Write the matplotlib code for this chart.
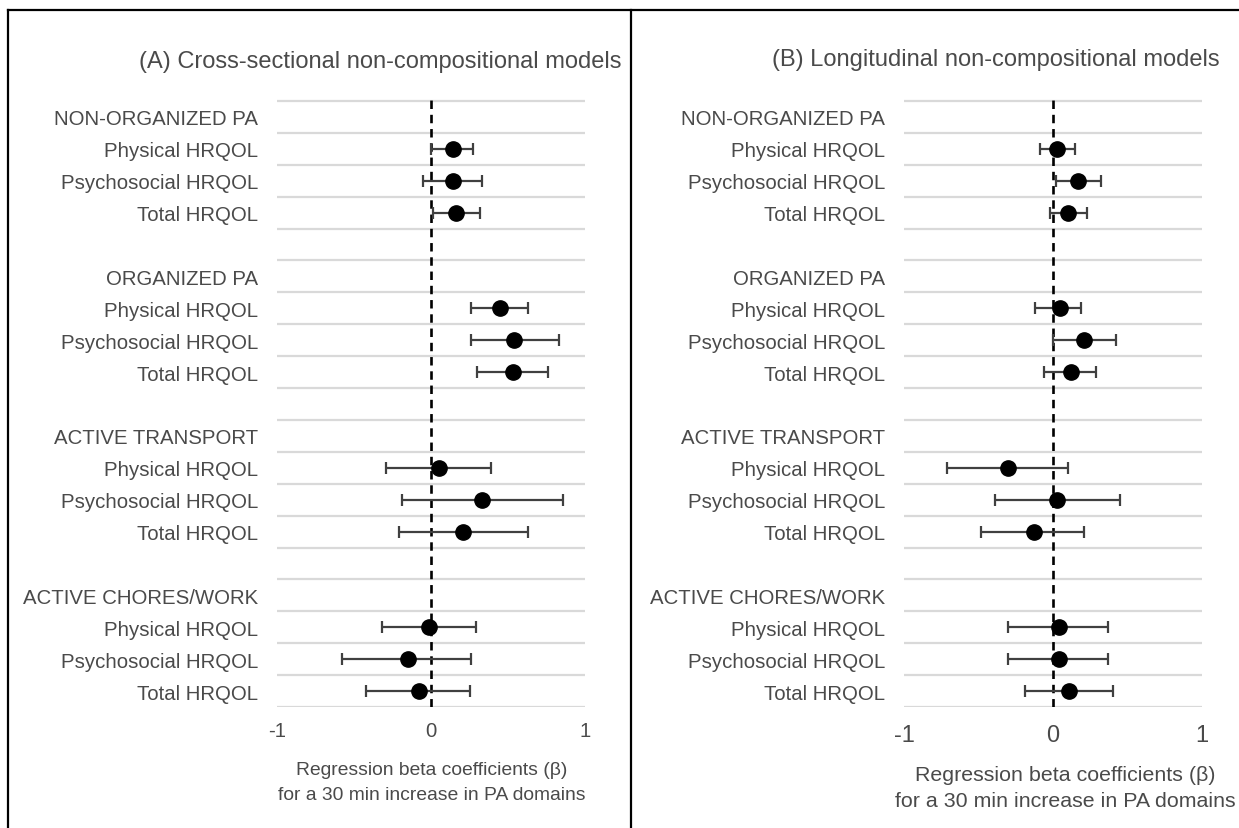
import matplotlib

matplotlib.use("Agg")
import matplotlib.pyplot as plt
from matplotlib.lines import Line2D
import numpy as np

plt.rcParams["font.family"] = ["Liberation Sans", "DejaVu Sans"]

DOMAINS = ["NON-ORGANIZED PA", "ORGANIZED PA", "ACTIVE TRANSPORT", "ACTIVE CHORES/WORK"]
OUTCOMES = ["Physical HRQOL", "Psychosocial HRQOL", "Total HRQOL"]
XTICKS = [-1, 0, 1]

# beta and 95% CI, ordered domain by domain, outcomes inside
CROSS_BETA = [0.14, 0.14, 0.16, 0.45, 0.54, 0.53, 0.05, 0.33, 0.21, -0.01, -0.15, -0.08]
CROSS_LO = [0.00, -0.05, 0.01, 0.26, 0.26, 0.30, -0.29, -0.19, -0.21, -0.32, -0.58, -0.42]
CROSS_HI = [0.27, 0.33, 0.32, 0.63, 0.83, 0.76, 0.39, 0.86, 0.63, 0.29, 0.26, 0.25]

LONG_BETA = [0.03, 0.17, 0.10, 0.05, 0.21, 0.12, -0.30, 0.03, -0.13, 0.04, 0.04, 0.11]
LONG_LO = [-0.09, 0.02, -0.02, -0.12, 0.00, -0.06, -0.71, -0.39, -0.48, -0.30, -0.30, -0.19]
LONG_HI = [0.15, 0.32, 0.23, 0.19, 0.42, 0.29, 0.10, 0.45, 0.21, 0.37, 0.37, 0.40]

W, H = 1239, 829
TEXT = "#4a4a4a"


def build_rows():
    """Row labels (header, 3 outcomes, blank spacer) and positions of the estimates."""
    labels, pos = [], []
    for i, dom in enumerate(DOMAINS):
        labels.append(dom)
        for out in OUTCOMES:
            pos.append(len(labels))
            labels.append(out)
        if i < len(DOMAINS) - 1:
            labels.append("")
    return labels, np.array(pos)


def px_axes(fig, left, right, top, bottom):
    return fig.add_axes([left / W, 1 - bottom / H, (right - left) / W, (bottom - top) / H])


def forest(ax, beta, lo, hi, tick_size, tick_pad):
    labels, pos = build_rows()
    n = len(labels)
    beta, lo, hi = map(np.asarray, (beta, lo, hi))

    ax.hlines(np.arange(n + 1) - 0.5, -1, 1, color="#d9d9d9", lw=1.6, zorder=1)
    ax.axvline(0, color="black", ls=(0, (3.2, 2.2)), lw=1.9, zorder=2)
    ax.errorbar(beta, pos, xerr=[beta - lo, hi - beta], fmt="o", color="black",
                ecolor="#404040", elinewidth=1.6, capsize=4.5, capthick=1.6,
                markersize=11, zorder=3)

    ax.set_xlim(-1, 1)
    ax.set_ylim(n - 0.5, -0.7)
    ax.set_yticks(np.arange(n))
    ax.set_yticklabels(labels, fontsize=14.7, color=TEXT)
    ax.set_xticks(XTICKS)
    ax.set_xticklabels([str(t) for t in XTICKS], fontsize=tick_size, color=TEXT)
    ax.tick_params(axis="y", length=0, pad=13.5)
    ax.tick_params(axis="x", length=0, pad=tick_pad)
    for s in ax.spines.values():
        s.set_visible(False)


fig = plt.figure(figsize=(W / 100, H / 100), dpi=100)

ax_a = px_axes(fig, 277, 585, 95.6, 708)
forest(ax_a, CROSS_BETA, CROSS_LO, CROSS_HI, 14.7, 10)
ax_b = px_axes(fig, 904, 1202, 95.6, 708)
forest(ax_b, LONG_BETA, LONG_LO, LONG_HI, 17, 12)

fig.text(380 / W, 1 - 62 / H, "(A) Cross-sectional non-compositional models",
         fontsize=17, color=TEXT, ha="center", va="center")
fig.text(996 / W, 1 - 60 / H, "(B) Longitudinal non-compositional models",
         fontsize=17, color=TEXT, ha="center", va="center")

fig.text(432 / W, 1 - 771 / H, "Regression beta coefficients (β)",
         fontsize=13.9, color=TEXT, ha="center", va="center")
fig.text(432 / W, 1 - 796 / H, "for a 30 min increase in PA domains",
         fontsize=13.9, color=TEXT, ha="center", va="center")
fig.text(1065 / W, 1 - 776 / H, "Regression beta coefficients (β)",
         fontsize=15.4, color=TEXT, ha="center", va="center")
fig.text(1065 / W, 1 - 802 / H, "for a 30 min increase in PA domains",
         fontsize=15.4, color=TEXT, ha="center", va="center")

# panel frame: top edge, left edge and the divider between the panels
for xs, ys in [((8, W), (11, 11)), ((8, 8), (11, H)), ((630.5, 630.5), (11, H))]:
    fig.add_artist(Line2D([x / W for x in xs], [1 - y / H for y in ys],
                          color="black", lw=1.6, transform=fig.transFigure))

fig.savefig("out.png", dpi=100)
